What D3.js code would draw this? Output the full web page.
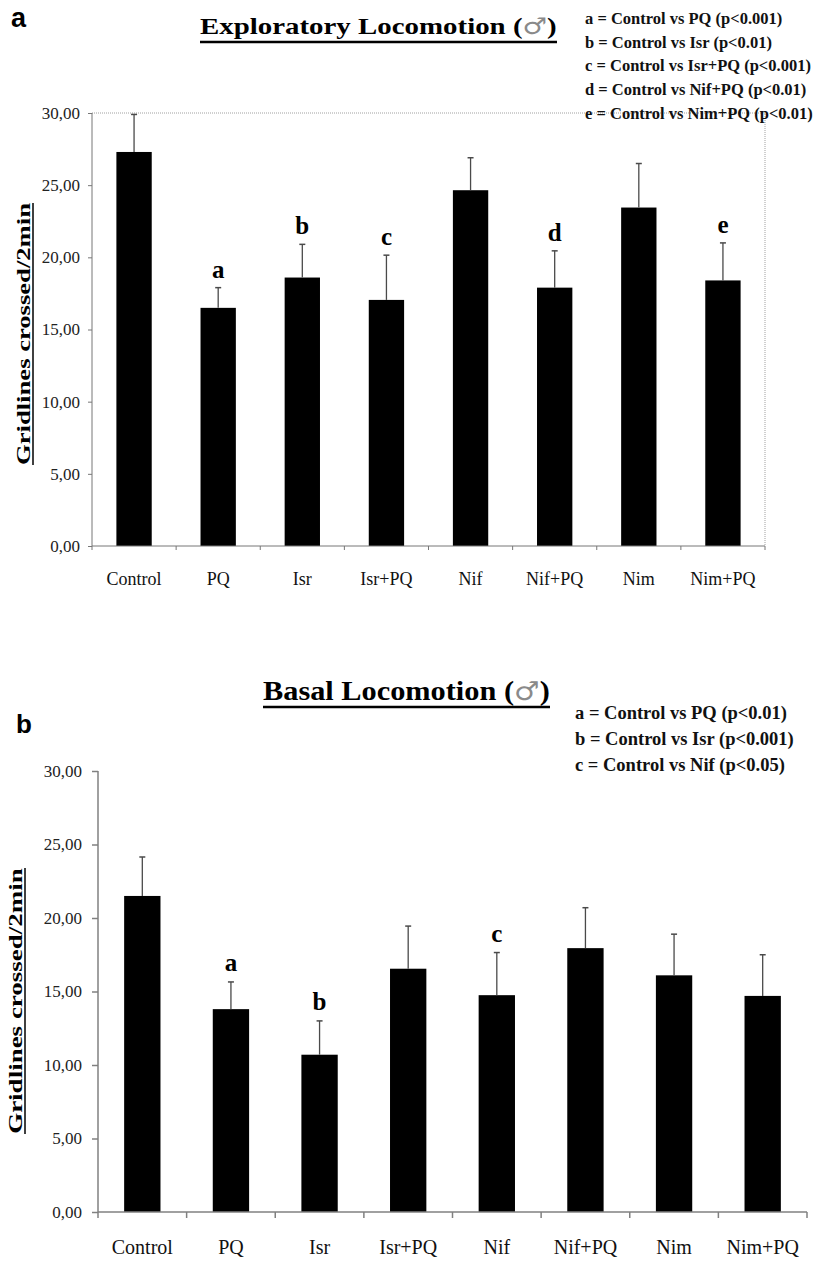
<!DOCTYPE html>
<html>
<head>
<meta charset="utf-8">
<script src="https://cdn.jsdelivr.net/npm/d3@7"></script>
<style>
  html, body { margin: 0; padding: 0; background: #fff; }
  svg { display: block; }
</style>
</head>
<body>
<svg id="fig" width="817" height="1263"></svg>
<script>
// Treatment groups (same for both panels)
const categories = ["Control", "PQ", "Isr", "Isr+PQ", "Nif", "Nif+PQ", "Nim", "Nim+PQ"];

// Panel a: exploratory locomotion, mean and SEM (gridlines crossed / 2 min)
const exploratoryMeans = [27.3, 16.5, 18.6, 17.05, 24.65, 17.9, 23.45, 18.4];
const exploratoryErrors = [2.6, 1.4, 2.3, 3.1, 2.25, 2.55, 3.05, 2.6];
const exploratoryMarks = ["", "a", "b", "c", "", "d", "", "e"];
const exploratoryLegend = [
  "a = Control vs PQ (p<0.001)",
  "b = Control vs Isr (p<0.01)",
  "c = Control vs Isr+PQ (p<0.001)",
  "d = Control vs Nif+PQ (p<0.01)",
  "e = Control vs Nim+PQ (p<0.01)"
];

// Panel b: basal locomotion, mean and SEM
const basalMeans = [21.5, 13.8, 10.7, 16.55, 14.75, 17.95, 16.1, 14.7];
const basalErrors = [2.65, 1.85, 2.3, 2.9, 2.9, 2.75, 2.8, 2.8];
const basalMarks = ["", "a", "b", "", "c", "", "", ""];
const basalLegend = [
  "a = Control vs PQ (p<0.01)",
  "b = Control vs Isr (p<0.001)",
  "c = Control vs Nif (p<0.05)"
];

const yTicks = [0, 5, 10, 15, 20, 25, 30];

const SERIF = "'Liberation Serif', 'Times New Roman', serif";
const SANS = "'Liberation Sans', Arial, sans-serif";
const commaFmt = d3.formatLocale({ decimal: ",", thousands: ".", grouping: [3], currency: ["", ""] }).format(".2f");

const svg = d3.select("#fig");

// Bold serif text, stretched horizontally to a given width, with an underline
function underlinedText(g, x, y, txt, opts) {
  const t = g.append("text")
    .attr("x", x).attr("y", y)
    .attr("font-family", SERIF)
    .attr("font-weight", "bold")
    .attr("font-size", opts.size)
    .attr("text-anchor", opts.anchor || "start")
    .attr("fill", "#000");
  t.append("tspan").text(txt);
  if (opts.symbol) {
    t.append("tspan").text(" (");
    t.append("tspan").text("\u2642").attr("font-weight", "normal").attr("fill", "#8a8a8a")
      .attr("font-family", "'DejaVu Sans', sans-serif").attr("font-size", opts.size * 0.95);
    t.append("tspan").text(")");
  }
  const bb = t.node().getBBox();
  const w = opts.width || bb.width;
  const s = w / bb.width;
  t.attr("transform", `translate(${x},0) scale(${s},1) translate(${-x},0)`);
  const x0 = (opts.anchor === "middle") ? x - w / 2 : x;
  g.append("line")
    .attr("x1", x0).attr("x2", x0 + w)
    .attr("y1", y + opts.ul).attr("y2", y + opts.ul)
    .attr("stroke", "#000").attr("stroke-width", opts.ulw || 2);
  return t;
}

function drawPanel(cfg) {
  const g = svg.append("g");
  const x = d3.scaleBand().domain(categories)
    .range([cfg.left, cfg.right]).paddingInner(cfg.pad).paddingOuter(cfg.pad / 2);
  const y = d3.scaleLinear().domain([0, 30]).range([cfg.bottom, cfg.top]);
  const step = x.step();

  // dotted top/right border of the plot area
  if (cfg.frame) {
    g.append("path")
      .attr("d", `M${cfg.left},${cfg.top}H${cfg.right}V${cfg.bottom}`)
      .attr("fill", "none").attr("stroke", "#a0a0a0").attr("stroke-width", 1)
      .attr("stroke-dasharray", "1,1");
  }

  // bars
  g.selectAll("rect.bar").data(categories).join("rect")
    .attr("class", "bar")
    .attr("x", d => x(d))
    .attr("width", x.bandwidth())
    .attr("y", (d, i) => y(cfg.means[i]))
    .attr("height", (d, i) => y(0) - y(cfg.means[i]))
    .attr("fill", "#000");

  // upper error bars
  const eg = g.selectAll("g.err").data(categories).join("g").attr("class", "err");
  eg.append("line")
    .attr("x1", d => x(d) + x.bandwidth() / 2).attr("x2", d => x(d) + x.bandwidth() / 2)
    .attr("y1", (d, i) => y(cfg.means[i]))
    .attr("y2", (d, i) => y(cfg.means[i] + cfg.errs[i]))
    .attr("stroke", "#4a4a4a").attr("stroke-width", 1.3);
  eg.append("line")
    .attr("x1", d => x(d) + x.bandwidth() / 2 - 3).attr("x2", d => x(d) + x.bandwidth() / 2 + 3)
    .attr("y1", (d, i) => y(cfg.means[i] + cfg.errs[i]))
    .attr("y2", (d, i) => y(cfg.means[i] + cfg.errs[i]))
    .attr("stroke", "#4a4a4a").attr("stroke-width", 1.5);

  // significance letters
  g.selectAll("text.mark").data(categories).join("text")
    .attr("class", "mark")
    .attr("x", d => x(d) + x.bandwidth() / 2)
    .attr("y", (d, i) => y(cfg.means[i] + cfg.errs[i]) - cfg.markGap)
    .attr("text-anchor", "middle")
    .attr("font-family", SERIF).attr("font-weight", "bold")
    .attr("font-size", cfg.markSize)
    .text((d, i) => cfg.marks[i]);

  // y axis
  const ya = g.append("g").attr("transform", `translate(${cfg.left},0)`)
    .call(d3.axisLeft(y).tickValues(yTicks).tickFormat(commaFmt).tickSize(cfg.tick).tickPadding(cfg.tickPad));
  ya.attr("font-family", SERIF).attr("font-size", cfg.tickSize);
  ya.select(".domain").attr("stroke", cfg.axisColor).attr("stroke-width", cfg.axisW)
    .attr("d", `M0,${cfg.bottom}V${cfg.top}`);
  ya.selectAll(".tick line").attr("stroke", cfg.axisColor).attr("stroke-width", cfg.axisW);
  ya.selectAll(".tick text").attr("font-family", SERIF).attr("font-size", cfg.tickSize).attr("fill", "#222");

  // x axis: ticks at group boundaries
  const xa = g.append("g").attr("transform", `translate(0,${cfg.bottom})`);
  xa.call(d3.axisBottom(x).tickSize(0).tickPadding(cfg.xLabPad));
  xa.attr("font-family", SERIF).attr("font-size", cfg.xLabSize);
  xa.select(".domain").attr("stroke", cfg.axisColor).attr("stroke-width", cfg.axisW)
    .attr("d", `M${cfg.left},0H${cfg.right}`);
  xa.selectAll(".tick text").attr("font-family", SERIF).attr("font-size", cfg.xLabSize).attr("fill", "#111");
  const bounds = d3.range(categories.length + 1).map(i => cfg.left + i * step);
  xa.selectAll("line.bnd").data(bounds).join("line")
    .attr("class", "bnd")
    .attr("x1", d => d).attr("x2", d => d)
    .attr("y1", 0).attr("y2", cfg.tick)
    .attr("stroke", cfg.axisColor).attr("stroke-width", cfg.axisW);

  // y label (rotated, underlined)
  const yl = g.append("g").attr("transform", `translate(${cfg.yLabX},${cfg.yLabY}) rotate(-90)`);
  underlinedText(yl, 0, 0, "Gridlines crossed/2min",
    { size: cfg.yLabSize, anchor: "middle", ul: 3, ulw: 1.5, width: cfg.yLabLen });

  // title
  underlinedText(g, cfg.titleX, cfg.titleY, cfg.title,
    { size: cfg.titleSize, symbol: true, ul: cfg.titleUl, ulw: 2.5, width: cfg.titleW });

  // legend of comparisons
  g.selectAll("text.leg").data(cfg.legend).join("text")
    .attr("class", "leg")
    .attr("x", cfg.legX)
    .attr("y", (d, i) => cfg.legY + i * cfg.legDy)
    .attr("font-family", SERIF).attr("font-weight", "bold")
    .attr("font-size", cfg.legSize).attr("fill", "#111")
    .text(d => d);

  // panel letter
  g.append("text").attr("x", cfg.letterX).attr("y", cfg.letterY)
    .attr("font-family", SANS).attr("font-weight", "bold").attr("font-size", cfg.letterSize)
    .text(cfg.letter);
}

drawPanel({
  means: exploratoryMeans, errs: exploratoryErrors, marks: exploratoryMarks, legend: exploratoryLegend,
  left: 92, right: 765, top: 113, bottom: 546, pad: 0.58,
  frame: true, axisColor: "#777", axisW: 1, tick: 4, tickPad: 8, tickSize: 17,
  xLabPad: 26, xLabSize: 18, markGap: 10, markSize: 25,
  yLabX: 30, yLabY: 334, yLabSize: 18, yLabLen: 262,
  title: "Exploratory Locomotion", titleX: 200, titleY: 34, titleSize: 24, titleW: 357, titleUl: 8,
  legX: 585, legY: 24, legDy: 23.7, legSize: 16.5,
  letter: "a", letterX: 11, letterY: 27, letterSize: 27
});

drawPanel({
  means: basalMeans, errs: basalErrors, marks: basalMarks, legend: basalLegend,
  left: 98, right: 807, top: 771, bottom: 1212, pad: 0.59,
  frame: false, axisColor: "#808080", axisW: 1.5, tick: 6, tickPad: 10, tickSize: 17,
  xLabPad: 28, xLabSize: 20, markGap: 11, markSize: 25,
  yLabX: 22, yLabY: 1001, yLabSize: 18, yLabLen: 266,
  title: "Basal Locomotion", titleX: 263, titleY: 700, titleSize: 27, titleW: 287, titleUl: 7,
  legX: 575, legY: 719, legDy: 26, legSize: 18.5,
  letter: "b", letterX: 16, letterY: 733, letterSize: 26
});
</script>
</body>
</html>
